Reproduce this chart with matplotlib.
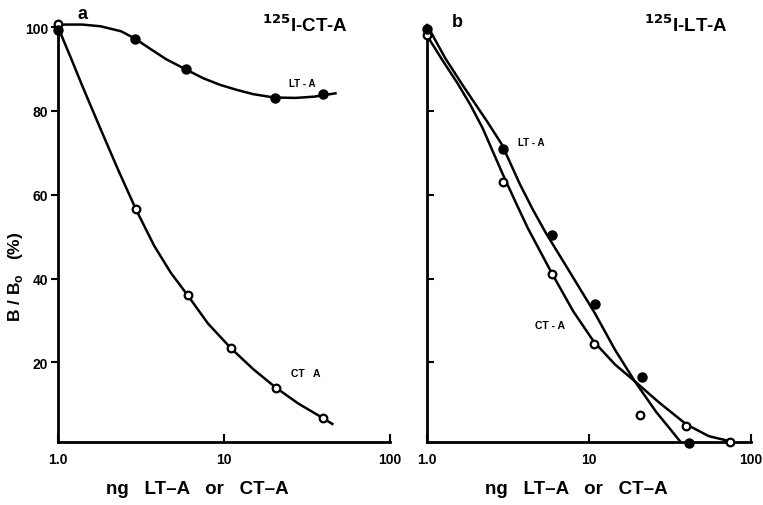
import matplotlib.pyplot as plt

# panel a: tracer 125I-CT-A
a_lt_x = [1.0, 2.9, 5.9, 20.3, 39.5]
a_lt_y = [99.2, 97.2, 90.0, 83.1, 84.0]
a_ct_x = [1.0, 2.95, 6.05, 11.0, 20.5, 39.5]
a_ct_y = [100.8, 56.5, 36.0, 23.4, 14.0, 6.7]

# hand-drawn curves of panel a
a_lt_cx = [1.0, 1.4, 1.8, 2.4, 2.9, 3.6, 4.5, 5.9, 7.5, 9.5, 12, 15, 20, 27, 35, 47]
a_lt_cy = [100.6, 100.6, 100.2, 99.0, 97.3, 94.8, 92.3, 89.9, 87.8, 86.2, 85.0, 84.0, 83.2, 83.1, 83.4, 84.2]
a_ct_cx = [1.0, 1.2, 1.4, 1.8, 2.3, 2.95, 3.8, 4.8, 6.05, 8, 11, 15, 20.5, 28, 39.5, 45]
a_ct_cy = [100.0, 92.5, 86.0, 75.8, 66.0, 56.5, 47.8, 41.3, 36.0, 29.3, 23.4, 18.4, 14.0, 10.2, 6.7, 5.3]

# panel b: tracer 125I-LT-A
b_lt_x = [1.0, 2.94, 5.9, 10.9, 21.2, 41.5]
b_lt_y = [99.6, 71.0, 50.5, 34.0, 16.4, 0.8]
b_ct_x = [1.0, 2.94, 5.9, 10.7, 20.8, 40.0, 74.0]
b_ct_y = [98.0, 63.0, 41.0, 24.5, 7.5, 4.8, 1.0]

# hand-drawn curves of panel b
b_lt_cx = [1.0, 1.3, 1.67, 2.0, 2.35, 2.9, 3.75, 4.5, 5.4, 7.5, 10.9, 14.5, 19.2, 26, 31, 36.5]
b_lt_cy = [100.5, 92.5, 86.0, 81.5, 77.5, 72.0, 62.5, 56.5, 51.0, 42.0, 31.7, 23.0, 15.5, 8.2, 4.6, 1.2]
b_ct_cx = [1.0, 1.25, 1.55, 1.85, 2.2, 2.93, 3.5, 4.2, 5.0, 5.9, 8, 10.7, 14.5, 19.2, 27, 40, 55, 74]
b_ct_cy = [98.0, 92.0, 86.5, 81.5, 76.0, 65.0, 58.5, 52.0, 46.5, 41.3, 32.2, 25.0, 19.5, 15.5, 10.5, 5.2, 2.4, 1.2]

xticks = [1, 10, 100]
xtick_labels = ['1.0', '10', '100']
yticks = [20, 40, 60, 80, 100]

plt.rcParams['font.family'] = ['Liberation Sans', 'DejaVu Sans']
plt.rcParams['font.weight'] = 'bold'

fig = plt.figure(figsize=(7.63, 5.06), dpi=100)
ax1 = fig.add_axes([0.076, 0.1245, 0.435, 0.820])
ax2 = fig.add_axes([0.5596, 0.1245, 0.4244, 0.820])

for ax in (ax1, ax2):
    ax.set_xscale('log')
    ax.set_xlim(1, 100)
    ax.set_ylim(1, 100)
    ax.spines['top'].set_visible(False)
    ax.spines['right'].set_visible(False)
    ax.spines['left'].set_linewidth(2)
    ax.spines['bottom'].set_linewidth(2)
    ax.set_xticks(xticks)
    ax.set_xticklabels(xtick_labels, fontsize=10, fontweight='bold')
    ax.xaxis.set_minor_locator(plt.NullLocator())
    ax.tick_params(axis='x', direction='in', length=6, width=1.5, pad=7)
    ax.set_yticks(yticks)
    ax.set_xlabel('ng   LT\u2013A   or   CT\u2013A', fontsize=13.5, fontweight='bold')

ax1.xaxis.set_label_coords(0.42, -0.092)
ax2.xaxis.set_label_coords(0.46, -0.092)

ax1.set_yticklabels([str(v) for v in yticks], fontsize=10, fontweight='bold')
ax1.tick_params(axis='y', direction='out', length=5, width=1.5, pad=2)
ax2.set_yticks([20, 40, 60, 80])
ax2.set_yticklabels([])
ax2.tick_params(axis='y', direction='in', length=5, width=1.5)

ax1.set_ylabel('B / B$_\\mathregular{o}$   (%)', fontsize=12.5, fontweight='bold')
ax1.yaxis.set_label_coords(-0.098, 0.40)

line_kw = dict(color='black', linewidth=1.8, clip_on=False)
filled_kw = dict(linestyle='none', marker='o', markersize=6.5, color='black', clip_on=False, zorder=3)
open_kw = dict(linestyle='none', marker='o', markersize=5.5, markerfacecolor='white',
               markeredgecolor='black', markeredgewidth=1.6, clip_on=False, zorder=3)

# panel a
ax1.plot(a_lt_cx, a_lt_cy, **line_kw)
ax1.plot(a_ct_cx, a_ct_cy, **line_kw)
ax1.plot(a_ct_x, a_ct_y, **open_kw)
ax1.plot(a_lt_x, a_lt_y, **filled_kw)
ax1.text(1.41, 103.3, 'a', fontsize=13, fontweight='bold', ha='center', va='center')
ax1.text(30.7, 100.7, '$^{\\mathbf{125}}$I-CT-A', fontsize=13.5, fontweight='bold', ha='center', va='center')
ax1.text(29.5, 86.6, 'LT - A', fontsize=7, fontweight='bold', ha='center', va='center')
ax1.text(31, 17.4, 'CT   A', fontsize=7.5, fontweight='bold', ha='center', va='center')

# panel b
ax2.plot(b_lt_cx, b_lt_cy, **line_kw)
ax2.plot(b_ct_cx, b_ct_cy, **line_kw)
ax2.plot(b_ct_x, b_ct_y, **open_kw)
ax2.plot(b_lt_x, b_lt_y, **filled_kw)
ax2.text(1.55, 101.4, 'b', fontsize=13, fontweight='bold', ha='center', va='center')
ax2.text(40, 100.7, '$^{\\mathbf{125}}$I-LT-A', fontsize=13.5, fontweight='bold', ha='center', va='center')
ax2.text(4.38, 72.5, 'LT - A', fontsize=7, fontweight='bold', ha='center', va='center')
ax2.text(5.74, 28.8, 'CT - A', fontsize=7.5, fontweight='bold', ha='center', va='center')

fig.savefig('out.png', dpi=100)
